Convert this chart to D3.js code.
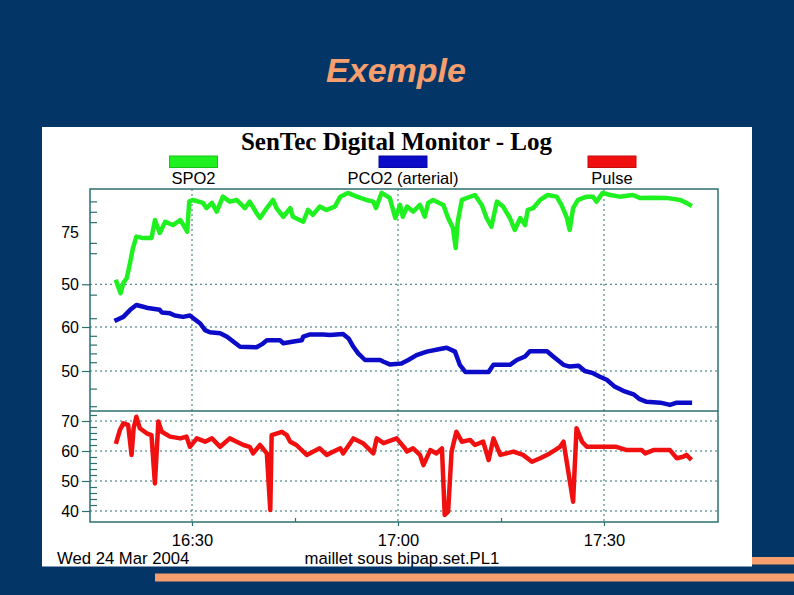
<!DOCTYPE html>
<html><head><meta charset="utf-8">
<script src="https://cdn.jsdelivr.net/npm/d3@7"></script>
<style>body{margin:0;background:#033567;} svg{display:block}</style>
</head><body>
<script>
// ---------- DATA (time = minutes after 16:00, Wed 24 Mar 2004) ----------
const spo2Time = [19.0,19.6,20.0,20.5,21.0,21.4,21.9,22.9,24.1,24.6,25.3,26.1,27.2,28.3,29.0,29.3,29.6,30.1,31.6,32.1,32.9,33.6,34.5,35.5,36.5,37.7,38.4,39.4,39.9,40.9,41.8,42.3,43.3,44.3,44.7,46.2,46.9,47.6,48.6,49.6,50.8,51.6,52.7,54.0,55.4,56.4,56.8,57.6,58.8,59.6,60.3,60.7,61.3,62.2,63.2,63.9,64.4,65.1,66.6,67.3,68.0,68.4,68.7,69.3,71.2,72.2,72.9,73.6,74.4,75.3,76.3,77.0,77.8,78.5,78.9,79.7,80.7,81.8,83.1,83.8,84.6,85.0,85.5,86.2,87.5,88.4,88.9,89.8,90.9,92.3,94.2,95.2,97.1,99.1,101.1,102.0,102.5];
const spo2Values = [51.2,45.7,50.6,53.0,60.7,67.5,73.0,72.3,72.3,81.0,74.8,80.2,78.6,81.0,77.2,75.4,89.9,90.7,89.3,86.8,89.3,85.1,92.3,89.9,90.7,86.8,89.9,84.4,82.0,86.8,90.7,86.8,82.6,86.8,82.6,80.2,85.9,83.5,87.5,85.9,87.5,92.3,94.1,92.3,90.7,89.9,86.8,94.1,91.7,82.0,88.3,82.6,87.5,85.1,88.3,82.6,89.3,90.7,88.3,82.0,77.2,67.5,80.2,90.7,93.1,88.3,82.0,77.8,89.9,87.5,82.0,76.2,82.0,78.6,85.9,86.8,90.7,93.1,92.3,88.3,82.0,76.2,86.8,90.7,92.3,92.3,89.9,94.1,93.1,92.3,93.1,91.7,91.8,91.7,90.7,89.3,88.3];

const pco2Time = [19.0,20.0,21.0,21.9,22.9,23.6,25.3,25.6,26.8,27.5,28.7,29.7,30.2,31.2,31.9,32.6,34.1,35.1,36.0,37.0,39.4,40.2,40.9,42.8,43.3,44.8,46.0,46.2,47.2,49.1,50.1,52.0,52.8,53.5,54.2,55.2,57.4,57.9,58.8,60.5,61.5,62.7,64.2,66.1,67.1,68.3,69.0,69.8,73.2,73.9,76.3,77.3,78.5,79.2,81.7,82.6,84.1,85.0,86.3,87.2,88.4,89.4,90.4,91.6,92.8,94.3,95.2,96.2,98.2,99.6,100.6,102.5];
const pco2Values = [61.6,62.3,63.9,65.0,64.6,64.3,63.9,63.3,63.1,62.6,62.3,62.6,62.0,60.8,59.3,58.8,58.6,57.8,56.7,55.5,55.4,56.1,57.0,57.0,56.3,56.7,57.0,57.8,58.3,58.3,58.2,58.4,57.4,55.5,54.0,52.5,52.5,52.1,51.5,51.7,52.5,53.6,54.4,55.0,55.3,54.4,51.4,49.8,49.8,51.4,51.4,52.5,53.3,54.5,54.5,53.3,51.4,51.0,51.2,50.0,49.5,48.7,48.0,46.4,45.5,44.7,43.6,43.0,42.8,42.3,42.8,42.8];

const pulseTime = [19.0,19.5,20.0,20.7,21.2,21.5,21.9,22.4,23.4,24.1,24.6,25.1,25.6,26.8,28.3,29.2,29.7,30.7,31.9,32.9,34.1,35.5,36.5,37.5,38.4,38.9,39.9,40.9,41.4,41.6,43.1,43.8,44.3,45.2,46.7,48.6,49.6,51.6,52.0,53.5,54.9,56.4,56.9,57.9,59.8,61.0,61.3,62.2,63.2,63.7,64.7,65.6,66.4,66.8,67.3,67.8,68.5,69.3,70.5,71.2,72.4,73.2,73.9,74.9,76.8,78.2,79.5,80.7,82.1,83.6,84.1,84.8,85.5,86.0,86.8,87.5,89.4,91.8,93.3,95.5,96.0,97.2,99.6,100.6,101.5,102.0,102.5];
const pulseValues = [63.1,67.0,69.2,68.7,58.7,67.6,71.4,67.6,65.9,65.3,49.2,69.8,66.4,64.8,64.2,64.8,61.4,64.2,63.1,64.2,61.4,64.2,63.1,62.0,61.4,59.2,62.0,59.2,40.3,65.3,66.4,65.3,63.1,62.0,58.7,60.9,58.7,60.9,59.2,64.2,62.6,59.2,64.2,62.6,64.2,60.9,59.8,60.9,58.7,55.3,60.3,59.2,60.9,38.7,39.8,59.8,66.4,63.1,63.7,62.0,63.1,57.0,64.2,58.7,59.8,58.7,56.4,57.6,59.2,61.4,63.1,53.1,43.1,67.6,63.1,61.4,61.4,61.4,60.3,60.3,59.2,60.3,60.3,57.6,58.1,58.7,57.6];

const xTickTimes = [30, 60, 90];           // 16:30, 17:00, 17:30
const xMinorTimes = [45, 75];
const spo2TickLabels = [50, 75];
const spo2MinorTicks = [45, 65, 70, 80, 85, 90];
const pco2TickLabels = [50, 60];
const pco2MinorTicks = [42, 46, 52, 54, 56, 58, 62];
const pulseTickLabels = [40, 50, 60, 70];
const pulseMinorTicks = [42, 44, 46, 48, 52, 54, 56, 58, 62, 64, 66, 68, 72];
const legendLabels = ["SPO2", "PCO2 (arterial)", "Pulse"];
const seriesColors = ["#1ff01f", "#0b0bc8", "#f01010"];
const slideTitle = "Exemple";
const chartTitle = "SenTec Digital Monitor - Log";
const footLeft = "Wed 24 Mar 2004";
const footCenter = "maillet sous bipap.set.PL1";

// ---------- DRAW ----------
const W = 794, H = 595;
const svg = d3.select("body").append("svg").attr("width", W).attr("height", H);
svg.append("rect").attr("width", W).attr("height", H).attr("fill", "#033567");

const orange = "#f59e6e";
svg.append("rect").attr("x", 155).attr("y", 557).attr("width", W - 155).attr("height", 7.5).attr("fill", orange);
svg.append("rect").attr("x", 155).attr("y", 573.5).attr("width", W - 155).attr("height", 8).attr("fill", orange);

svg.append("text").attr("x", 396).attr("y", 82).attr("text-anchor", "middle")
  .attr("font-family", "Liberation Sans, Arial, sans-serif").attr("font-style", "italic").attr("font-weight", "bold")
  .attr("font-size", 34).attr("fill", orange).text(slideTitle);

// white panel
svg.append("rect").attr("x", 42).attr("y", 127).attr("width", 710).attr("height", 439.5).attr("fill", "#ffffff");

svg.append("text").attr("x", 396.5).attr("y", 150).attr("text-anchor", "middle")
  .attr("font-family", "Liberation Serif, Times New Roman, serif").attr("font-weight", "bold")
  .attr("font-size", 25).attr("fill", "#000").text(chartTitle);

const font = "Liberation Sans, Arial, sans-serif";
const legX = [193.5, 403, 612];
legendLabels.forEach((lab, i) => {
  svg.append("rect").attr("x", legX[i] - 24).attr("y", 156).attr("width", 48).attr("height", 11.5)
    .attr("fill", seriesColors[i]).attr("stroke", d3.color(seriesColors[i]).darker(0.6)).attr("stroke-width", 1);
  svg.append("text").attr("x", legX[i]).attr("y", 184).attr("text-anchor", "middle")
    .attr("font-family", font).attr("font-size", 16.5).attr("fill", "#000").text(lab);
});

const base = new Date(2004, 2, 24, 16, 0, 0).getTime();
const toDate = m => new Date(base + m * 60000);
const L = 90, R = 718, T = 189, B = 522, MID = 411;
const x = d3.scaleTime().domain([toDate(15.146), toDate(106.6)]).range([L, R]);
const ySpo2 = d3.scaleLinear().domain([50, 75]).range([284.3, 232.5]);
const yPco2 = d3.scaleLinear().domain([50, 60]).range([371, 327]);
const yPulse = d3.scaleLinear().domain([40, 70]).range([511, 421]);

const teal = "#2b6f70";
const grid = svg.append("g").attr("stroke", teal).attr("stroke-width", 1).attr("stroke-dasharray", "2,3");
xTickTimes.forEach(t => grid.append("line").attr("x1", x(toDate(t))).attr("x2", x(toDate(t))).attr("y1", T).attr("y2", B));
const hLines = [ySpo2(50), ...pco2TickLabels.map(yPco2), ...pulseTickLabels.map(yPulse)];
hLines.forEach(y => grid.append("line").attr("x1", L).attr("x2", R).attr("y1", y).attr("y2", y));

function styleAxis(g, fs) {
  g.select(".domain").remove();
  g.selectAll("line").attr("stroke", teal).attr("stroke-width", 1.2);
  g.selectAll("text").attr("font-family", font).attr("font-size", fs).attr("fill", "#000");
}
// labelled left axes
[[ySpo2, spo2TickLabels], [yPco2, pco2TickLabels], [yPulse, pulseTickLabels]].forEach(([s, vals]) => {
  const g = svg.append("g").attr("transform", `translate(${L},0)`)
    .call(d3.axisLeft(s).tickValues(vals).tickSize(8).tickPadding(3).tickFormat(d3.format("d")));
  styleAxis(g, 16);
  if (s === ySpo2) g.selectAll(".tick").filter(d => d === 75).select("line").remove();
});
// minor ticks inside
[[ySpo2, spo2MinorTicks], [yPco2, pco2MinorTicks], [yPulse, pulseMinorTicks]].forEach(([s, vals]) => {
  const g = svg.append("g").attr("transform", `translate(${L},0)`)
    .call(d3.axisRight(s).tickValues(vals).tickSize(7).tickFormat(""));
  styleAxis(g, 16);
});
// bottom axis
const gx = svg.append("g").attr("transform", `translate(0,${B})`)
  .call(d3.axisBottom(x).tickValues(xTickTimes.map(toDate)).tickSize(4).tickPadding(8).tickFormat(d3.timeFormat("%H:%M")));
styleAxis(gx, 16.5);
const gxm = svg.append("g").attr("transform", `translate(0,${B})`)
  .call(d3.axisBottom(x).tickValues(xMinorTimes.map(toDate)).tickSize(-4).tickFormat(""));
styleAxis(gxm, 16);

// frame
svg.append("rect").attr("x", L).attr("y", T).attr("width", R - L).attr("height", B - T)
  .attr("fill", "none").attr("stroke", teal).attr("stroke-width", 1.5);
svg.append("line").attr("x1", L).attr("x2", R).attr("y1", MID).attr("y2", MID).attr("stroke", teal).attr("stroke-width", 1.5);

// series
const series = [[spo2Time, spo2Values, ySpo2], [pco2Time, pco2Values, yPco2], [pulseTime, pulseValues, yPulse]];
series.forEach(([ts, vs, ys], i) => {
  const pts = ts.map((t, j) => [toDate(t), vs[j]]);
  svg.append("path").datum(pts)
    .attr("d", d3.line().x(d => x(d[0])).y(d => ys(d[1])))
    .attr("fill", "none").attr("stroke", seriesColors[i]).attr("stroke-width", 4.5)
    .attr("stroke-linejoin", "round").attr("stroke-linecap", "square");
});

svg.append("text").attr("x", 57).attr("y", 564).attr("font-family", font).attr("font-size", 16.7).attr("fill", "#000").text(footLeft);
svg.append("text").attr("x", 304.5).attr("y", 564).attr("font-family", font).attr("font-size", 16.7).attr("fill", "#000").text(footCenter);
</script>
</body></html>
